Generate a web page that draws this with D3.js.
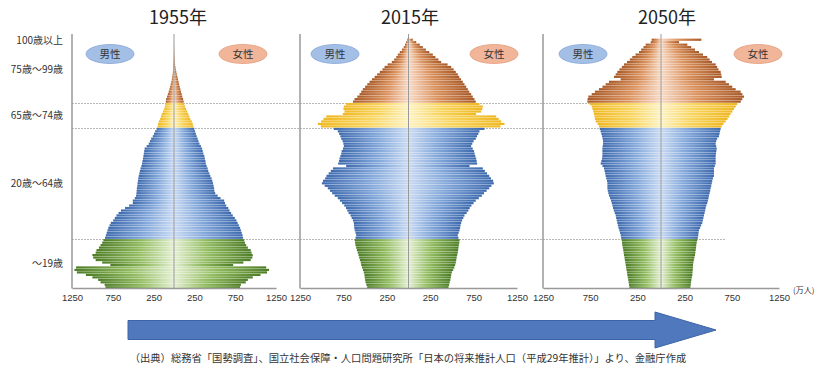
<!DOCTYPE html>
<html><head><meta charset="utf-8">
<script src="https://cdn.jsdelivr.net/npm/d3@7"></script>
<style>
body{margin:0;background:#fff;}
svg{display:block;font-family:"Noto Sans CJK JP","Noto Sans",sans-serif;}
</style>
</head><body>
<svg id="chart" width="823" height="370"></svg>
<script>
// ---------- DATA ----------
const ages = d3.range(0, 101); // 0 .. 100 (100 = 100歳以上)
const yearTitles = ["1955年", "2015年", "2050年"];
const sexLabels = ["男性", "女性"];
const ageGroupLabels = ["100歳以上", "75歳～99歳", "65歳～74歳", "20歳～64歳", "～19歳"];
const ageGroupLabelAges = [100, 88.5, 70, 42.5, 10];
const groupBreaks = [20, 65, 75];
const tickValues = [-1250, -750, -250, 250, 750, 1250];
const tickLabels = ["1250", "750", "250", "250", "750", "1250"];
const unitLabel = "(万人)";
const sourceNote = "（出典）総務省「国勢調査」、国立社会保障・人口問題研究所「日本の将来推計人口（平成29年推計）」より、金融庁作成";

const male1955 = [840,850,900,930,1000,1080,1190,1220,1200,780,880,960,990,1000,960,950,920,900,880,865,
 845,835,825,815,805,790,775,745,725,705,680,650,600,550,505,505,480,465,460,458,
 455,450,447,442,438,432,425,418,410,400,392,386,380,375,370,365,360,335,310,295,
 280,260,245,230,212,200,195,185,170,160,150,135,120,112,106,100,96,85,75,65,
 55,47,40,32,26,21,17,13,10,8,6,4,3,2,2,1,1,1,0.5,0.3,0.2];
const female1955 = [810,820,880,905,965,1060,1140,1165,1130,725,850,940,960,965,950,940,905,885,870,860,
 845,840,830,820,810,795,780,765,745,720,700,680,665,640,625,615,570,535,505,495,
 492,485,478,470,460,445,433,420,412,400,390,385,378,372,360,352,345,330,312,300,
 290,278,268,258,249,238,230,218,200,188,175,162,148,135,126,118,112,102,94,86,
 78,70,63,56,49,42,35,28,22,17,13,10,7,5,4,3,2,1,1,0.5,0.3];

const male2015 = [476,485,495,500,505,507,515,525,535,545,550,560,568,576,585,595,603,611,615,620,
 610,603,610,620,625,628,630,640,655,668,690,705,720,740,765,790,815,850,880,905,
 930,965,998,985,960,945,920,895,870,718,810,800,795,785,775,770,755,745,750,760,
 775,785,800,815,860,1010,1044,1006,980,948,757,737,750,745,718,640,622,590,564,545,
 526,500,475,449,420,390,361,330,300,276,240,192,165,140,123,100,75,55,40,27,15];
const female2015 = [461,468,475,482,488,492,500,515,528,538,545,550,555,561,568,572,576,580,585,588,
 575,568,578,588,595,600,607,618,632,645,670,690,705,725,750,775,810,845,870,900,
 930,955,983,975,950,930,905,880,856,703,790,785,780,770,762,755,740,722,735,750,
 775,790,805,818,875,1060,1106,1068,1040,1010,779,837,850,856,818,775,760,740,722,700,
 683,665,645,626,605,585,568,545,520,492,450,376,345,310,280,240,200,165,130,89,50];

const male2050 = [335,339,343,347,352,357,361,365,370,374,378,383,387,392,396,400,405,410,413,416,
 422,427,434,442,450,457,463,469,475,480,490,500,508,515,522,530,540,551,558,564,
 568,568,568,572,580,586,592,598,604,620,639,632,625,621,621,621,621,618,614,614,
 618,625,632,640,649,657,672,692,700,705,710,718,726,734,755,780,778,770,734,700,
 657,620,586,551,427,498,480,463,440,415,392,360,330,304,270,233,210,185,162,109,99];
const female2050 = [312,315,318,322,327,332,334,336,338,339,343,348,354,360,364,367,371,374,378,384,
 390,395,398,402,414,426,437,443,449,455,462,468,473,480,490,497,503,508,515,521,
 526,532,538,543,550,561,561,561,561,570,579,579,579,579,583,586,590,585,579,585,
 595,614,620,626,632,643,662,685,705,722,738,756,773,791,808,845,861,879,862,844,
 791,755,720,685,561,643,638,632,610,595,579,540,515,490,445,402,360,320,279,191,427];

const maleSeries = [male1955, male2015, male2050];
const femaleSeries = [female1955, female2015, female2050];

// ---------- LAYOUT ----------
const svg = d3.select("#chart");
const panels = [
  {x0: 72, x1: 276, titleX: 178, mLegX: 110, fLegX: 243},
  {x0: 300, x1: 517, titleX: 410, mLegX: 335, fLegX: 494},
  {x0: 543, x1: 779, titleX: 667, mLegX: 583, fLegX: 758}
];
const yTop = 38.5, yBot = 288.5, axisY = 288;
const yBand = d3.scaleBand().domain(ages.slice().reverse()).range([yTop, yBot]).paddingInner(0.1).paddingOuter(0.05);
const yLin = d3.scaleLinear().domain([0, 101]).range([yBot, yTop]);

// gradients
const palette = {
  green:  {light: "#e4efd2", mid: "#92bc60", dark: "#4e7d27"},
  blue:   {light: "#c9daf2", mid: "#82a7da", dark: "#3e6aae"},
  yellow: {light: "#fdf2c2", mid: "#f8d560", dark: "#efb823"},
  orange: {light: "#f7dac6", mid: "#da915c", dark: "#a85927"}
};
const defs = svg.append("defs");
Object.entries(palette).forEach(([k, c]) => {
  ["m", "f"].forEach(s => {
    const g = defs.append("linearGradient").attr("id", `g-${k}-${s}`)
      .attr("x1", s === "m" ? "1" : "0").attr("x2", s === "m" ? "0" : "1").attr("y1", "0").attr("y2", "0");
    g.append("stop").attr("offset", "0%").attr("stop-color", c.light);
    g.append("stop").attr("offset", "45%").attr("stop-color", c.mid);
    g.append("stop").attr("offset", "100%").attr("stop-color", c.dark);
  });
});
function groupOf(age) {
  if (age < groupBreaks[0]) return "green";
  if (age < groupBreaks[1]) return "blue";
  if (age < groupBreaks[2]) return "yellow";
  return "orange";
}

// horizontal group lines (behind bars)
const hLines = [
  {age: groupBreaks[2], xEnd: 662},
  {age: groupBreaks[1], xEnd: 662},
  {age: groupBreaks[0], xEnd: 726}
];
svg.append("g").selectAll("line").data(hLines).join("line")
  .attr("x1", panels[0].x0).attr("x2", d => d.xEnd)
  .attr("y1", d => Math.round(yLin(d.age)) + 0.5).attr("y2", d => Math.round(yLin(d.age)) + 0.5)
  .attr("stroke", "#b8b8b8").attr("stroke-width", 1).attr("stroke-dasharray", "2,1");

// left group labels
svg.append("g").selectAll("text").data(ageGroupLabels).join("text")
  .attr("x", 63).attr("y", (d, i) => yLin(ageGroupLabelAges[i]))
  .attr("dy", "0.35em").attr("text-anchor", "end")
  .attr("font-size", 10).attr("fill", "#333").text(d => d);

panels.forEach((p, pi) => {
  const x = d3.scaleLinear().domain([-1250, 1250]).range([p.x0, p.x1]);
  const g = svg.append("g");
  const rows = ages.map(a => ({age: a, m: maleSeries[pi][a], f: femaleSeries[pi][a]}));

  // male bars
  g.append("g").selectAll("rect").data(rows).join("rect")
    .attr("x", d => x(-d.m)).attr("width", d => x(0) - x(-d.m))
    .attr("y", d => yBand(d.age)).attr("height", yBand.bandwidth())
    .attr("fill", d => `url(#g-${groupOf(d.age)}-m)`);
  // female bars
  g.append("g").selectAll("rect").data(rows).join("rect")
    .attr("x", x(0)).attr("width", d => x(d.f) - x(0))
    .attr("y", d => yBand(d.age)).attr("height", yBand.bandwidth())
    .attr("fill", d => `url(#g-${groupOf(d.age)}-f)`);

  // centre line
  g.append("line").attr("x1", x(0)).attr("x2", x(0)).attr("y1", 34).attr("y2", axisY)
    .attr("stroke", "#9a9a9a").attr("stroke-width", 1);
  // left axis
  g.append("line").attr("x1", p.x0).attr("x2", p.x0).attr("y1", 34).attr("y2", axisY + 0.5)
    .attr("stroke", "#999").attr("stroke-width", 1.5);

  // bottom axis
  const ax = g.append("g").attr("transform", `translate(0,${axisY})`)
    .call(d3.axisBottom(x).tickValues(tickValues).tickFormat((d, i) => tickLabels[i]).tickSize(0).tickPadding(6));
  ax.select(".domain").attr("stroke", "#999").attr("stroke-width", 1.5);
  ax.selectAll("text").attr("font-size", 9.5).attr("fill", "#333")
    .attr("font-family", "'Liberation Sans Narrow','Liberation Sans',sans-serif");

  // title
  g.append("text").attr("x", p.titleX).attr("y", 24).attr("text-anchor", "middle")
    .attr("font-size", 18).attr("fill", "#222")
    .attr("font-family", "'Noto Sans CJK JP',sans-serif").text(yearTitles[pi]);

  // legend ellipses
  const leg = [
    {cx: p.mLegX, fill: "#a3bfe6", stroke: "#86a6d6", label: sexLabels[0]},
    {cx: p.fLegX, fill: "#f1b699", stroke: "#e39c7a", label: sexLabels[1]}
  ];
  const lg = g.append("g").selectAll("g").data(leg).join("g");
  lg.append("ellipse").attr("cx", d => d.cx).attr("cy", 54).attr("rx", 24).attr("ry", 9.5)
    .attr("fill", d => d.fill).attr("stroke", d => d.stroke).attr("stroke-width", 0.8);
  lg.append("text").attr("x", d => d.cx).attr("y", 54).attr("dy", "0.36em").attr("text-anchor", "middle")
    .attr("font-size", 10.5).attr("fill", "#333").text(d => d.label);
});

// unit label
svg.append("text").attr("x", 793).attr("y", 290).attr("font-size", 8).attr("fill", "#333")
  .attr("dy", "0.35em").text(unitLabel);

// big arrow
const arrowPath = d3.path();
arrowPath.moveTo(128, 320.5);
arrowPath.lineTo(655, 320.5);
arrowPath.lineTo(655, 312);
arrowPath.lineTo(716, 330);
arrowPath.lineTo(655, 348);
arrowPath.lineTo(655, 339.5);
arrowPath.lineTo(128, 339.5);
arrowPath.closePath();
svg.append("path").attr("d", arrowPath.toString()).attr("fill", "#5079bd")
  .attr("stroke", "#3c64a6").attr("stroke-width", 1);

// source note
svg.append("text").attr("x", 408).attr("y", 358).attr("text-anchor", "middle")
  .attr("font-size", 10.3).attr("fill", "#333").attr("dy", "0.35em").text(sourceNote);
</script>
</body></html>
